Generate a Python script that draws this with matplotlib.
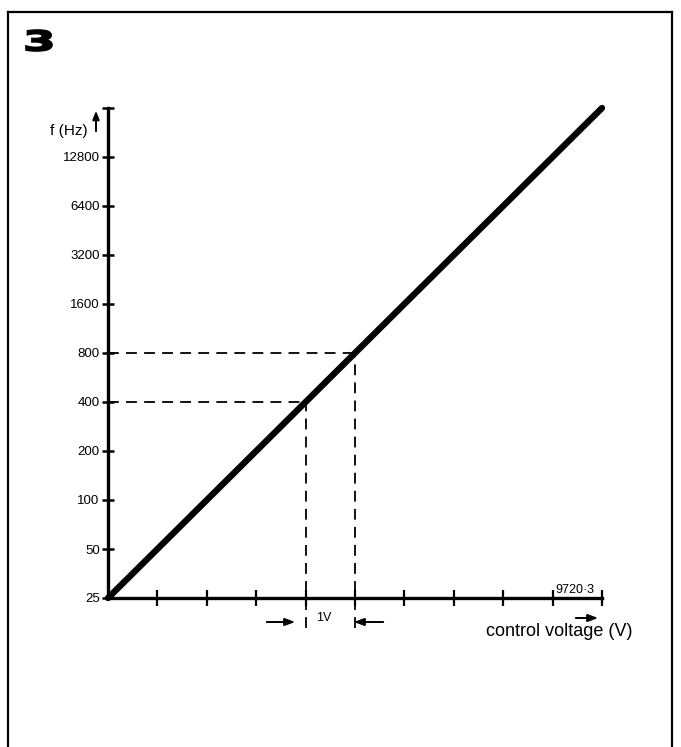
import matplotlib
matplotlib.use("Agg")
import matplotlib.pyplot as plt
from matplotlib.lines import Line2D
from matplotlib.patches import FancyArrowPatch, PathPatch
from matplotlib.textpath import TextPath
from matplotlib.font_manager import FontProperties
from matplotlib.transforms import Affine2D

plt.rcParams['font.family'] = ['Liberation Sans', 'DejaVu Sans']

# === Datos ===
voltaje = [0, 1, 2, 3, 4, 5, 6, 7, 8, 9, 10]
frecuencia = [25, 50, 100, 200, 400, 800, 1600, 3200, 6400, 12800, 25600]
ticks_y = [25, 50, 100, 200, 400, 800, 1600, 3200, 6400, 12800]
ticks_x = [1, 2, 3, 4, 5, 6, 7, 8, 9, 10]
ref_v = [4, 5]
ref_f = [400, 800]

W, H = 681, 747
fig = plt.figure(figsize=(W / 100, H / 100), dpi=100)

def fx(px):
    return px / W

def fy(py):
    return 1 - py / H

def flecha(x0, y0, x1, y1):
    fig.add_artist(FancyArrowPatch(
        (fx(x0), fy(y0)), (fx(x1), fy(y1)), transform=fig.transFigure,
        arrowstyle='-|>,head_length=6,head_width=2.2', color='black', lw=1.4))

# === Marco (sin borde inferior) ===
for xs, ys in [([8, 8], [12, 760]), ([8, 672], [12, 12]), ([672, 672], [12, 760])]:
    fig.add_artist(Line2D([fx(x) for x in xs], [fy(y) for y in ys],
                          color='black', lw=1.6, transform=fig.transFigure))

# numero de figura, estirado a lo ancho
tp = TextPath((0, 0), "3", size=1, prop=FontProperties(family='DejaVu Sans', weight='bold'))
ext = tp.get_extents()
tr = (Affine2D().translate(-ext.x0, -ext.y0)
      .scale(26 / ext.width / W, 21 / ext.height / H)
      .translate(fx(26), fy(51)) + fig.transFigure)
fig.add_artist(PathPatch(tp, transform=tr, facecolor='black', edgecolor='black', lw=1.2))

ax = fig.add_axes([fx(108), fy(598), fx(602) - fx(108), fy(108) - fy(598)])
ax.set_yscale('log', base=2)
ax.set_xlim(0, 10)
ax.set_ylim(25, 25600)

ax.plot(voltaje, frecuencia, color='black', lw=4.6, solid_capstyle='round', clip_on=False)

# lineas de referencia
for v, f in zip(ref_v, ref_f):
    ax.plot([0, v], [f, f], color='black', lw=1.3, dashes=(6, 4), clip_on=False)
    frac = (ax.transScale + ax.transLimits).transform((v, f))[1]
    ax.plot([v, v], [-0.061, frac], color='black', lw=1.3, dashes=(6, 4),
            transform=ax.get_xaxis_transform(), clip_on=False)

for s in ['top', 'right']:
    ax.spines[s].set_visible(False)
for s in ['left', 'bottom']:
    ax.spines[s].set_linewidth(2.4)

ax.set_yticks(ticks_y + [25600])
ax.set_yticklabels([str(t) for t in ticks_y] + [''])
ax.yaxis.set_minor_locator(matplotlib.ticker.NullLocator())
ax.set_xticks(ticks_x)
ax.set_xticklabels([])
ax.tick_params(axis='y', direction='inout', length=8, width=1.8, labelsize=9.5, pad=2)
ax.tick_params(axis='x', direction='inout', length=11, width=1.6)

# etiqueta del eje y y flecha
fig.text(fx(88), fy(131), "f (Hz)", fontsize=11, ha='right', va='center')
fig.add_artist(FancyArrowPatch(
    (fx(96), fy(134)), (fx(96), fy(108)), transform=fig.transFigure,
    arrowstyle='-|>,head_length=5,head_width=2', color='black', lw=1.4))

# etiqueta del eje x y flecha
fig.text(fx(632), fy(632), "control voltage (V)", fontsize=13, ha='right', va='center')
flecha(573, 618, 601, 618)

fig.text(fx(575), fy(590), "9720·3", fontsize=9, ha='center', va='center')

# indicacion de 1V
fig.text(fx(324), fy(618), "1V", fontsize=9, ha='center', va='center')
flecha(264, 622, 298, 622)
flecha(386, 622, 351, 622)

fig.savefig("out.png", dpi=100)
